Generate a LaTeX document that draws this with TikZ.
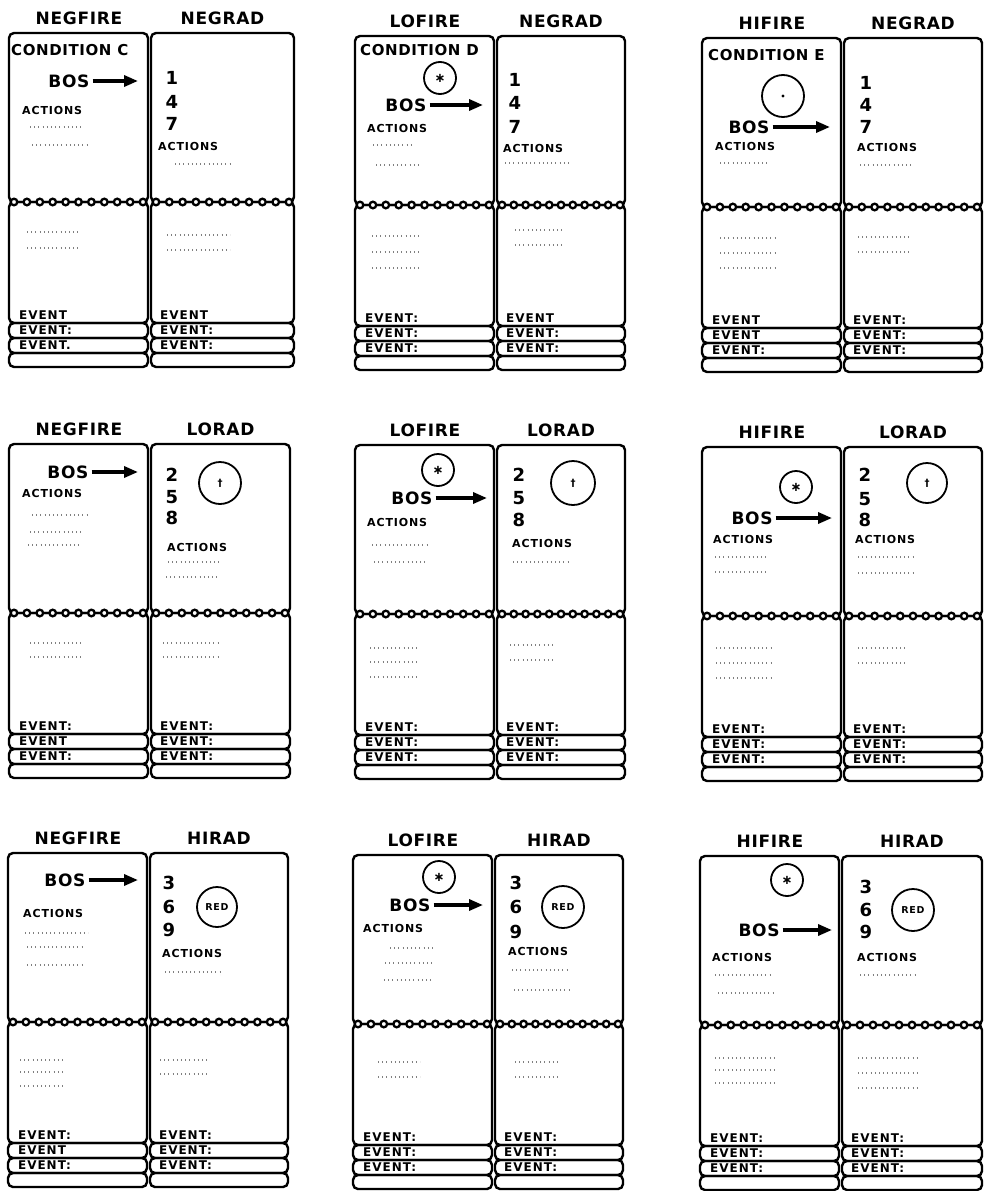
\documentclass[tikz,border=0pt]{standalone}
\usepackage{fontspec}
\setmainfont{DejaVu Sans}[LetterSpace=8]
\newfontfamily\headfont{DejaVu Sans}[LetterSpace=4]
\usetikzlibrary{arrows.meta}

\tikzset{
  card/.style={line width=2.4pt, rounded corners=5pt},
  ring/.style={line width=2.3pt, fill=white},
  collabel/.style={font=\headfont\bfseries\fontsize{17}{19}\selectfont, inner sep=0pt},
  condlabel/.style={anchor=west, font=\headfont\bfseries\fontsize{15}{18}\selectfont, inner sep=0pt},
  boslabel/.style={font=\headfont\bfseries\fontsize{17}{19}\selectfont, inner sep=3pt},
  digit/.style={font=\bfseries\fontsize{18}{19}\selectfont, inner sep=0pt},
  acts/.style={anchor=west, font=\bfseries\fontsize{11}{12}\selectfont, inner sep=0pt},
  eventtxt/.style={anchor=west, font=\bfseries\fontsize{12}{13}\selectfont, inner sep=0pt},
  sym/.style={circle, draw, line width=1.8pt, inner sep=0pt},
  scribble/.style={line width=1.3pt, black!50, dash pattern=on 1pt off 3.2pt},
  bosarrow/.style={line width=3.3pt, -{Triangle[length=14pt,width=11pt]}},
}

% one FIRE card and one RAD card side by side, origin at the top left corner
% #1 name, #2 width of the RAD card, #3 FIRE heading, #4 RAD heading,
% #5 and #6 the event strips of the two cards
\newcommand{\cardpair}[6]{%
  \pgfmathsetmacro{\radR}{142+#2}
  \pgfmathsetmacro{\radC}{142+#2/2}
  % column headings
  \node[collabel] (#1-firehead) at (70,-15) {#3};
  \node[collabel] (#1-radhead) at (\radC,-15) {#4};
  % upper card, lower card and event strips
  \foreach \xa/\xb in {0/139,142/\radR} {
    \draw[card] (\xa,0) rectangle (\xb,169);
    \draw[card] (\xa,169) rectangle (\xb,290);
    \draw[card] (\xa,290) rectangle (\xb,305);
    \draw[card] (\xa,305) rectangle (\xb,320);
    \draw[card] (\xa,320) rectangle (\xb,334);
    % ring binding
    \foreach \i in {0,...,10}
      \draw[ring] ({\xa+5+\i*(\xb-\xa-10)/10},169) circle (3.3pt);
  }
  % event labels
  \foreach \evt [count=\k] in {#5}
    \node[eventtxt] (#1-fireev\k) at (10,{267+\k*15}) {\evt};
  \foreach \evt [count=\k] in {#6}
    \node[eventtxt] (#1-radev\k) at (151,{267+\k*15}) {\evt};
}

% faint handwriting on a card
\newcommand{\scribble}[3]{\draw[scribble] (#1,#2) -- ++(#3,0);}

\begin{document}
\begin{tikzpicture}[x=1pt,y=-1pt]
  \useasboundingbox (0,0) rectangle (984,1191);

  % NEGFIRE - NEGRAD
  \begin{scope}[shift={(9,33)}]
    \cardpair{a}{143}{NEGFIRE}{NEGRAD}{EVENT,EVENT:,EVENT.}{EVENT,EVENT:,EVENT:}
    \node[condlabel] (a-cond) at (2,17) {CONDITION C};
    \node[boslabel] (a-bos) at (60,48) {BOS};
    \coordinate (a-tip) at (129,48);
    \draw[bosarrow] (a-bos) -- (a-tip);
    \node[acts] (a-fireact) at (13,77) {ACTIONS};
    \scribble{21}{94}{52} \scribble{23}{112}{58}
    \foreach \dg/\yy [count=\k] in {1/45,4/69,7/91}
      \node[digit] (a-n\k) at (163,\yy) {\dg};
    \node[acts] (a-radact) at (149,113) {ACTIONS};
    \scribble{166}{131}{58}
    \scribble{18}{199}{53} \scribble{18}{215}{53}
    \scribble{158}{202}{63} \scribble{158}{217}{63}
  \end{scope}

  % LOFIRE - NEGRAD
  \begin{scope}[shift={(355,36)}]
    \cardpair{b}{128}{LOFIRE}{NEGRAD}{EVENT:,EVENT:,EVENT:}{EVENT,EVENT:,EVENT:}
    \node[condlabel] (b-cond) at (5,14) {CONDITION D};
    \node[sym, minimum size=32pt, font=\bfseries\fontsize{13}{13}\selectfont] (b-star) at (85,42) {∗};
    \node[boslabel] (b-bos) at (51,69) {BOS};
    \coordinate (b-tip) at (128,69);
    \draw[bosarrow] (b-bos) -- (b-tip);
    \node[acts] (b-fireact) at (12,92) {ACTIONS};
    \scribble{18}{109}{40} \scribble{21}{129}{43}
    \foreach \dg/\yy [count=\k] in {1/44,4/67,7/91}
      \node[digit] (b-n\k) at (160,\yy) {\dg};
    \node[acts] (b-radact) at (148,112) {ACTIONS};
    \scribble{150}{127}{65}
    \scribble{17}{200}{48} \scribble{17}{216}{48} \scribble{17}{232}{48}
    \scribble{160}{194}{50} \scribble{160}{209}{50}
  \end{scope}

  % HIFIRE - NEGRAD
  \begin{scope}[shift={(702,38)}]
    \cardpair{c}{138}{HIFIRE}{NEGRAD}{EVENT,EVENT,EVENT:}{EVENT:,EVENT:,EVENT:}
    \node[condlabel] (c-cond) at (6,17) {CONDITION E};
    \node[sym, minimum size=42pt] (c-circ) at (81,58) {};
    \fill (c-circ.center) circle (1.6pt);
    \node[boslabel] (c-bos) at (47,89) {BOS};
    \coordinate (c-tip) at (128,89);
    \draw[bosarrow] (c-bos) -- (c-tip);
    \node[acts] (c-fireact) at (13,108) {ACTIONS};
    \scribble{18}{125}{50}
    \foreach \dg/\yy [count=\k] in {1/45,4/67,7/89}
      \node[digit] (c-n\k) at (164,\yy) {\dg};
    \node[acts] (c-radact) at (155,109) {ACTIONS};
    \scribble{158}{127}{53}
    \scribble{18}{200}{55} \scribble{18}{215}{55} \scribble{18}{230}{55}
    \scribble{156}{199}{52} \scribble{156}{214}{52}
  \end{scope}

  % NEGFIRE - LORAD
  \begin{scope}[shift={(9,444)}]
    \cardpair{d}{139}{NEGFIRE}{LORAD}{EVENT:,EVENT,EVENT:}{EVENT:,EVENT:,EVENT:}
    \node[boslabel] (d-bos) at (59,28) {BOS};
    \coordinate (d-tip) at (129,28);
    \draw[bosarrow] (d-bos) -- (d-tip);
    \node[acts] (d-fireact) at (13,49) {ACTIONS};
    \scribble{23}{71}{58} \scribble{21}{88}{53} \scribble{19}{101}{53}
    \foreach \dg/\yy [count=\k] in {2/31,5/53,8/74}
      \node[digit] (d-n\k) at (163,\yy) {\dg};
    \node[sym, minimum size=42pt, font=\bfseries\fontsize{10}{10}\selectfont] (d-dag) at (211,39) {†};
    \node[acts] (d-radact) at (158,103) {ACTIONS};
    \scribble{159}{118}{54} \scribble{157}{133}{54}
    \scribble{21}{199}{52} \scribble{21}{213}{52}
    \scribble{154}{199}{57} \scribble{154}{213}{57}
  \end{scope}

  % LOFIRE - LORAD
  \begin{scope}[shift={(355,445)}]
    \cardpair{e}{128}{LOFIRE}{LORAD}{EVENT:,EVENT:,EVENT:}{EVENT:,EVENT:,EVENT:}
    \node[sym, minimum size=32pt, font=\bfseries\fontsize{13}{13}\selectfont] (e-star) at (83,25) {∗};
    \node[boslabel] (e-bos) at (57,53) {BOS};
    \coordinate (e-tip) at (132,53);
    \draw[bosarrow] (e-bos) -- (e-tip);
    \node[acts] (e-fireact) at (12,77) {ACTIONS};
    \scribble{17}{100}{56} \scribble{19}{117}{54}
    \foreach \dg/\yy [count=\k] in {2/30,5/53,8/75}
      \node[digit] (e-n\k) at (164,\yy) {\dg};
    \node[sym, minimum size=44pt, font=\bfseries\fontsize{10}{10}\selectfont] (e-dag) at (218,38) {†};
    \node[acts] (e-radact) at (157,98) {ACTIONS};
    \scribble{158}{117}{57}
    \scribble{15}{203}{50} \scribble{15}{217}{50} \scribble{15}{232}{50}
    \scribble{155}{200}{45} \scribble{155}{215}{45}
  \end{scope}

  % HIFIRE - LORAD
  \begin{scope}[shift={(702,447)}]
    \cardpair{f}{138}{HIFIRE}{LORAD}{EVENT:,EVENT:,EVENT:}{EVENT:,EVENT:,EVENT:}
    \node[sym, minimum size=32pt, font=\bfseries\fontsize{13}{13}\selectfont] (f-star) at (94,40) {∗};
    \node[boslabel] (f-bos) at (50,71) {BOS};
    \coordinate (f-tip) at (130,71);
    \draw[bosarrow] (f-bos) -- (f-tip);
    \node[acts] (f-fireact) at (11,92) {ACTIONS};
    \scribble{13}{110}{52} \scribble{13}{125}{52}
    \foreach \dg/\yy [count=\k] in {2/28,5/52,8/73}
      \node[digit] (f-n\k) at (163,\yy) {\dg};
    \node[sym, minimum size=40pt, font=\bfseries\fontsize{10}{10}\selectfont] (f-dag) at (225,36) {†};
    \node[acts] (f-radact) at (153,92) {ACTIONS};
    \scribble{156}{110}{58} \scribble{156}{126}{58}
    \scribble{14}{201}{55} \scribble{14}{216}{55} \scribble{14}{231}{55}
    \scribble{156}{201}{48} \scribble{156}{216}{48}
  \end{scope}

  % NEGFIRE - HIRAD
  \begin{scope}[shift={(8,853)}]
    \cardpair{g}{138}{NEGFIRE}{HIRAD}{EVENT:,EVENT,EVENT:}{EVENT:,EVENT:,EVENT:}
    \node[boslabel] (g-bos) at (57,27) {BOS};
    \coordinate (g-tip) at (130,27);
    \draw[bosarrow] (g-bos) -- (g-tip);
    \node[acts] (g-fireact) at (15,60) {ACTIONS};
    \scribble{17}{80}{63} \scribble{19}{94}{57} \scribble{19}{112}{57}
    \foreach \dg/\yy [count=\k] in {3/30,6/54,9/77}
      \node[digit] (g-n\k) at (161,\yy) {\dg};
    \node[sym, minimum size=40pt, font=\bfseries\fontsize{9.5}{10}\selectfont] (g-red) at (209,54) {RED};
    \node[acts] (g-radact) at (154,100) {ACTIONS};
    \scribble{157}{119}{58}
    \scribble{12}{207}{45} \scribble{12}{219}{45} \scribble{12}{233}{45}
    \scribble{152}{207}{50} \scribble{152}{221}{50}
  \end{scope}

  % LOFIRE - HIRAD
  \begin{scope}[shift={(353,855)}]
    \cardpair{h}{128}{LOFIRE}{HIRAD}{EVENT:,EVENT:,EVENT:}{EVENT:,EVENT:,EVENT:}
    \node[sym, minimum size=32pt, font=\bfseries\fontsize{13}{13}\selectfont] (h-star) at (86,22) {∗};
    \node[boslabel] (h-bos) at (57,50) {BOS};
    \coordinate (h-tip) at (130,50);
    \draw[bosarrow] (h-bos) -- (h-tip);
    \node[acts] (h-fireact) at (10,73) {ACTIONS};
    \scribble{37}{93}{43} \scribble{32}{108}{50} \scribble{31}{125}{50}
    \foreach \dg/\yy [count=\k] in {3/28,6/52,9/77}
      \node[digit] (h-n\k) at (163,\yy) {\dg};
    \node[sym, minimum size=42pt, font=\bfseries\fontsize{9.5}{10}\selectfont] (h-red) at (210,52) {RED};
    \node[acts] (h-radact) at (155,96) {ACTIONS};
    \scribble{159}{115}{58} \scribble{161}{135}{56}
    \scribble{25}{207}{42} \scribble{25}{222}{42}
    \scribble{162}{207}{45} \scribble{162}{222}{45}
  \end{scope}

  % HIFIRE - HIRAD
  \begin{scope}[shift={(700,856)}]
    \cardpair{i}{140}{HIFIRE}{HIRAD}{EVENT:,EVENT:,EVENT:}{EVENT:,EVENT:,EVENT:}
    \node[sym, minimum size=32pt, font=\bfseries\fontsize{13}{13}\selectfont] (i-star) at (87,24) {∗};
    \node[boslabel] (i-bos) at (59,74) {BOS};
    \coordinate (i-tip) at (132,74);
    \draw[bosarrow] (i-bos) -- (i-tip);
    \node[acts] (i-fireact) at (12,101) {ACTIONS};
    \scribble{15}{119}{58} \scribble{18}{137}{55}
    \foreach \dg/\yy [count=\k] in {3/31,6/54,9/76}
      \node[digit] (i-n\k) at (166,\yy) {\dg};
    \node[sym, minimum size=42pt, font=\bfseries\fontsize{9.5}{10}\selectfont] (i-red) at (213,54) {RED};
    \node[acts] (i-radact) at (157,101) {ACTIONS};
    \scribble{160}{119}{55}
    \scribble{15}{202}{62} \scribble{15}{214}{62} \scribble{15}{227}{62}
    \scribble{158}{202}{59} \scribble{158}{217}{59} \scribble{158}{232}{59}
  \end{scope}
\end{tikzpicture}
\end{document}
